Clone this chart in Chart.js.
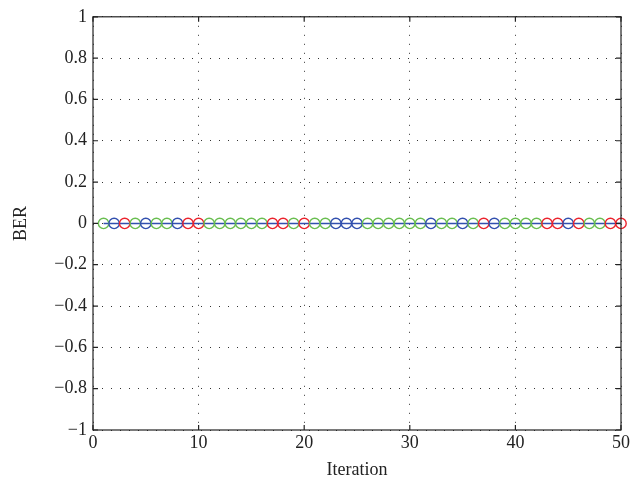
<!DOCTYPE html>
<html>
<head>
<meta charset="utf-8">
<script src="https://cdn.jsdelivr.net/npm/chart.js@4"></script>
<style>
  html, body { margin: 0; padding: 0; background: #fff; }
  #wrap { width: 639px; height: 487px; }
</style>
</head>
<body>
<div id="wrap"><canvas id="berChart" width="639" height="487"></canvas></div>
<script>
// iteration numbers
const iterations = [1,2,3,4,5,6,7,8,9,10,11,12,13,14,15,16,17,18,19,20,
  21,22,23,24,25,26,27,28,29,30,31,32,33,34,35,36,37,38,39,40,
  41,42,43,44,45,46,47,48,49,50];
// BER per iteration
const berValues = [0,0,0,0,0,0,0,0,0,0,0,0,0,0,0,0,0,0,0,0,
  0,0,0,0,0,0,0,0,0,0,0,0,0,0,0,0,0,0,0,0,
  0,0,0,0,0,0,0,0,0,0];
// marker colour class per iteration (g = green, b = blue, r = red)
const markerClass = ['g','b','r','g','b','g','g','b','r','r',
  'g','g','g','g','g','g','r','r','g','r',
  'g','g','b','b','b','g','g','g','g','g',
  'g','b','g','g','b','g','r','b','g','g',
  'g','g','r','r','b','r','g','g','r','r'];
const yTicks = [-1,-0.8,-0.6,-0.4,-0.2,0,0.2,0.4,0.6,0.8,1];
const xTicks = [0,10,20,30,40,50];

const colors = { g: 'rgb(105,190,80)', b: 'rgb(50,80,175)', r: 'rgb(235,35,45)' };
const FONT = "'Liberation Serif', 'DejaVu Serif', serif";

// box + inward ticks like matlab
const boxPlugin = {
  id: 'box',
  afterDraw(chart) {
    const { ctx, chartArea: a, scales } = chart;
    ctx.save();
    ctx.strokeStyle = '#222';
    ctx.lineWidth = 1.2;
    ctx.strokeRect(a.left, a.top, a.right - a.left, a.bottom - a.top);
    ctx.beginPath();
    const len = 5;
    xTicks.forEach(v => {
      const x = scales.x.getPixelForValue(v);
      ctx.moveTo(x, a.bottom); ctx.lineTo(x, a.bottom - len);
      ctx.moveTo(x, a.top); ctx.lineTo(x, a.top + len);
    });
    yTicks.forEach(v => {
      const y = scales.y.getPixelForValue(v);
      ctx.moveTo(a.left, y); ctx.lineTo(a.left + len, y);
      ctx.moveTo(a.right, y); ctx.lineTo(a.right - len, y);
    });
    ctx.stroke();
    ctx.restore();
  }
};

const points = iterations.map((it, i) => ({ x: it, y: berValues[i] }));

new Chart(document.getElementById('berChart').getContext('2d'), {
  type: 'line',
  data: {
    datasets: [{
      data: points,
      borderColor: colors.b,
      borderWidth: 1.5,
      pointStyle: 'circle',
      pointRadius: 5.2,
      pointBorderWidth: 1.4,
      pointBackgroundColor: 'rgba(0,0,0,0)',
      pointBorderColor: markerClass.map(c => colors[c]),
      tension: 0,
      clip: false
    }]
  },
  options: {
    responsive: false,
    animation: false,
    layout: { padding: { top: 14, right: 18, left: 0, bottom: 0 } },
    plugins: { legend: { display: false }, tooltip: { enabled: false } },
    scales: {
      x: {
        type: 'linear', min: 0, max: 50,
        afterBuildTicks: s => { s.ticks = xTicks.map(v => ({ value: v })); },
        afterFit: s => { s.height = 57; },
        border: { display: false, dash: [1, 8] },
        grid: { color: '#333', lineWidth: 1, drawTicks: false },
        ticks: { color: '#222', font: { family: FONT, size: 18 }, padding: 2, maxRotation: 0 },
        title: { display: true, text: 'Iteration', color: '#222', font: { family: FONT, size: 18 }, padding: { top: 0, bottom: 6 } }
      },
      y: {
        min: -1, max: 1,
        afterBuildTicks: s => { s.ticks = yTicks.map(v => ({ value: v })); },
        afterFit: s => { s.width = 93; },
        border: { display: false, dash: [1, 8] },
        grid: { color: '#333', lineWidth: 1, drawTicks: false },
        ticks: {
          color: '#222', font: { family: FONT, size: 18 }, padding: 6,
          callback: v => String(Math.round(v * 10) / 10).replace('-', '\u2212')
        },
        title: { display: true, text: 'BER', color: '#222', font: { family: FONT, size: 18 }, padding: { top: 10, bottom: 0 } }
      }
    }
  },
  plugins: [boxPlugin]
});
</script>
</body>
</html>
